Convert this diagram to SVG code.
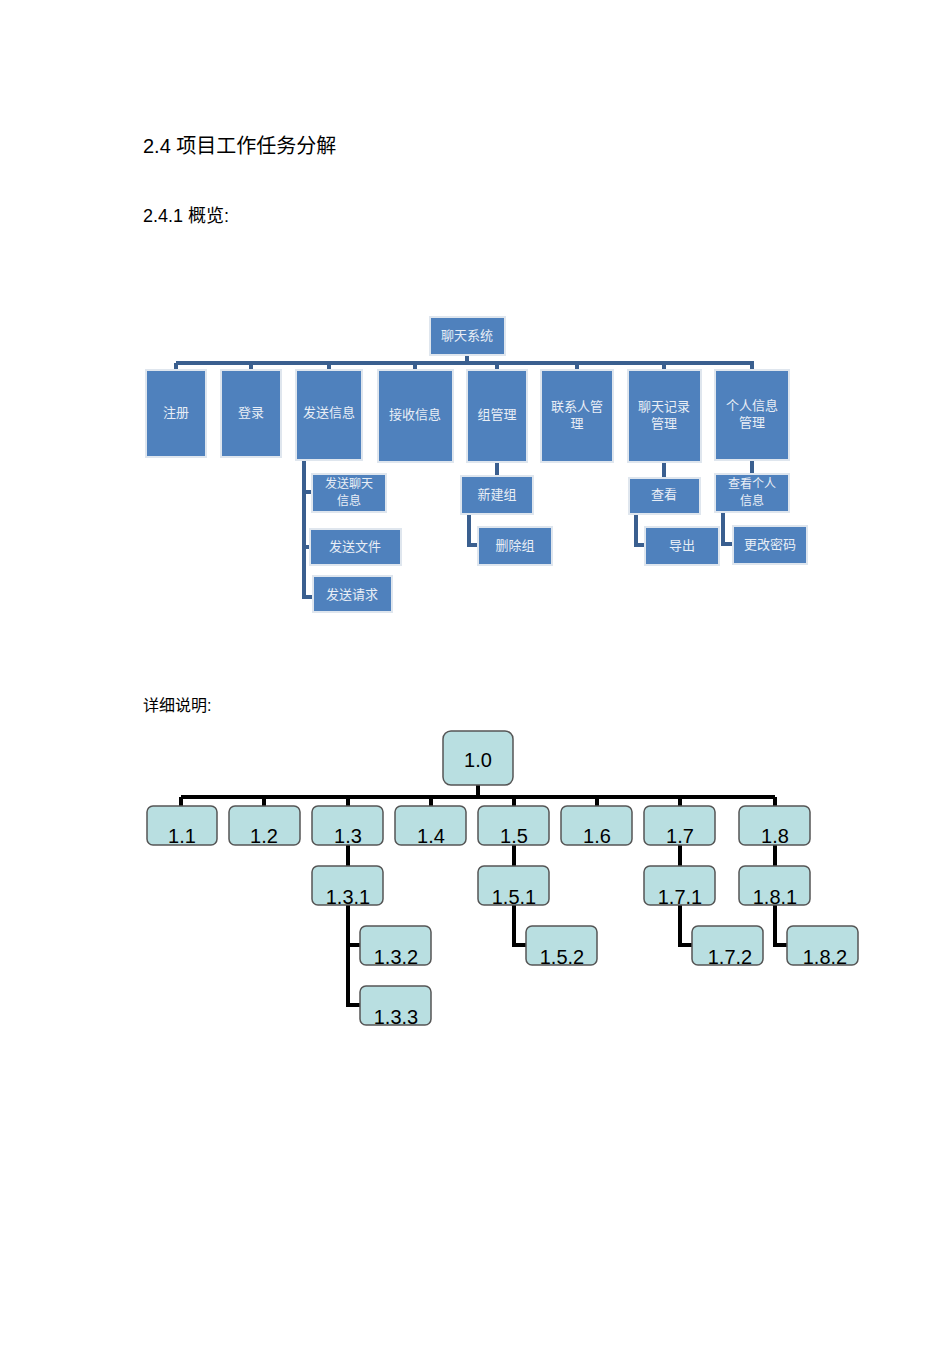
<svg xmlns="http://www.w3.org/2000/svg" width="950" height="1345" viewBox="0 0 950 1345">
<style>
.h{font-family:"Liberation Sans","Noto Sans CJK SC",sans-serif;fill:#000}
.b{fill:#4f81bd;stroke:#dfe6ee;stroke-width:2}
.bt{font-family:"Noto Sans CJK SC",sans-serif;font-size:13px;fill:#e8eef6;text-anchor:middle}
.sm{font-size:12px}
.c1{fill:none;stroke:#3a5f8f;stroke-width:4}
.g{fill:#b9dfe1;stroke:#555;stroke-width:1.5}
.gt{font-family:"Liberation Sans",sans-serif;font-size:20px;fill:#000;text-anchor:middle}
.c2{fill:none;stroke:#000;stroke-width:4}
</style>
<rect width="950" height="1345" fill="#fff"/>
<text class="h" x="143" y="153" font-size="20">2.4  项目工作任务分解</text>
<text class="h" x="143" y="222" font-size="18">2.4.1  概览:</text>
<text class="h" x="143" y="711" font-size="16">详细说明:</text>
<g id="connectors1">
<path class="c1" d="M467 355V363M176 363H754M176 363V370M251 363V370M329 363V370M415 363V370M497 363V370M577 363V370M664 363V370M752 363V370"/>
<path class="c1" d="M304 460V597H313M304 492H312M304 547H310"/>
<path class="c1" d="M497 462V476M469 514V545H478"/>
<path class="c1" d="M664 462V478M636 514V545H645"/>
<path class="c1" d="M752 460V474M723 512V544H733"/>
</g>
<g id="n_root"><rect class="b" x="430" y="317" width="75" height="38"/><text class="bt" x="467" y="340">聊天系统</text></g>
<g id="n_zc"><rect class="b" x="146" y="370" width="60" height="87"/><text class="bt" x="176" y="417">注册</text></g>
<g id="n_dl"><rect class="b" x="221" y="370" width="60" height="87"/><text class="bt" x="251" y="417">登录</text></g>
<g id="n_fs"><rect class="b" x="296" y="370" width="66" height="90"/><text class="bt" x="329" y="417">发送信息</text></g>
<g id="n_js"><rect class="b" x="378" y="370" width="75" height="92"/><text class="bt" x="415" y="419">接收信息</text></g>
<g id="n_zg"><rect class="b" x="467" y="370" width="60" height="92"/><text class="bt" x="497" y="419">组管理</text></g>
<g id="n_lx"><rect class="b" x="541" y="370" width="72" height="92"/><text class="bt" x="577" y="411">联系人管</text><text class="bt" x="577" y="428">理</text></g>
<g id="n_lt"><rect class="b" x="628" y="370" width="73" height="92"/><text class="bt" x="664" y="411">聊天记录</text><text class="bt" x="664" y="428">管理</text></g>
<g id="n_gr"><rect class="b" x="715" y="370" width="74" height="90"/><text class="bt" x="752" y="410">个人信息</text><text class="bt" x="752" y="427">管理</text></g>
<g id="n_fslt"><rect class="b" x="312" y="474" width="74" height="38"/><text class="bt sm" x="349" y="488">发送聊天</text><text class="bt sm" x="349" y="505">信息</text></g>
<g id="n_fswj"><rect class="b" x="310" y="529" width="91" height="36"/><text class="bt" x="355" y="551">发送文件</text></g>
<g id="n_fsqq"><rect class="b" x="313" y="576" width="79" height="36"/><text class="bt" x="352" y="599">发送请求</text></g>
<g id="n_xjz"><rect class="b" x="461" y="476" width="72" height="38"/><text class="bt" x="497" y="499">新建组</text></g>
<g id="n_scz"><rect class="b" x="478" y="527" width="74" height="38"/><text class="bt" x="515" y="550">删除组</text></g>
<g id="n_ck"><rect class="b" x="629" y="478" width="71" height="36"/><text class="bt" x="664" y="499">查看</text></g>
<g id="n_dc"><rect class="b" x="645" y="527" width="74" height="38"/><text class="bt" x="682" y="550">导出</text></g>
<g id="n_ckgr"><rect class="b" x="715" y="474" width="74" height="38"/><text class="bt sm" x="752" y="488">查看个人</text><text class="bt sm" x="752" y="505">信息</text></g>
<g id="n_ggmm"><rect class="b" x="733" y="526" width="74" height="38"/><text class="bt" x="770" y="549">更改密码</text></g>
<g id="connectors2">
<path class="c2" d="M478 785V797M181 797H775M181 797V806M264 797V806M348 797V806M431 797V806M514 797V806M597 797V806M680 797V806M775 797V806"/>
<path class="c2" d="M348 845V866M348 905V1005H360M348 945H360"/>
<path class="c2" d="M514 845V866M514 905V945H526"/>
<path class="c2" d="M680 845V866M680 905V945H692"/>
<path class="c2" d="M775 845V866M775 905V945H787"/>
</g>
<g id="w10"><rect class="g" x="443" y="731" width="70" height="54" rx="8"/><text class="gt" x="478" y="767">1.0</text></g>
<g id="w11"><rect class="g" x="147" y="806" width="70" height="39" rx="6"/><text class="gt" x="182" y="843">1.1</text></g>
<g id="w12"><rect class="g" x="229" y="806" width="71" height="39" rx="6"/><text class="gt" x="264" y="843">1.2</text></g>
<g id="w13"><rect class="g" x="312" y="806" width="71" height="39" rx="6"/><text class="gt" x="348" y="843">1.3</text></g>
<g id="w14"><rect class="g" x="395" y="806" width="71" height="39" rx="6"/><text class="gt" x="431" y="843">1.4</text></g>
<g id="w15"><rect class="g" x="478" y="806" width="71" height="39" rx="6"/><text class="gt" x="514" y="843">1.5</text></g>
<g id="w16"><rect class="g" x="561" y="806" width="71" height="39" rx="6"/><text class="gt" x="597" y="843">1.6</text></g>
<g id="w17"><rect class="g" x="644" y="806" width="71" height="39" rx="6"/><text class="gt" x="680" y="843">1.7</text></g>
<g id="w18"><rect class="g" x="739" y="806" width="71" height="39" rx="6"/><text class="gt" x="775" y="843">1.8</text></g>
<g id="w131"><rect class="g" x="312" y="866" width="71" height="39" rx="6"/><text class="gt" x="348" y="904">1.3.1</text></g>
<g id="w151"><rect class="g" x="478" y="866" width="71" height="39" rx="6"/><text class="gt" x="514" y="904">1.5.1</text></g>
<g id="w171"><rect class="g" x="644" y="866" width="71" height="39" rx="6"/><text class="gt" x="680" y="904">1.7.1</text></g>
<g id="w181"><rect class="g" x="739" y="866" width="71" height="39" rx="6"/><text class="gt" x="775" y="904">1.8.1</text></g>
<g id="w132"><rect class="g" x="360" y="926" width="71" height="39" rx="6"/><text class="gt" x="396" y="964">1.3.2</text></g>
<g id="w152"><rect class="g" x="526" y="926" width="71" height="39" rx="6"/><text class="gt" x="562" y="964">1.5.2</text></g>
<g id="w172"><rect class="g" x="692" y="926" width="71" height="39" rx="6"/><text class="gt" x="730" y="964">1.7.2</text></g>
<g id="w182"><rect class="g" x="787" y="926" width="71" height="39" rx="6"/><text class="gt" x="825" y="964">1.8.2</text></g>
<g id="w133"><rect class="g" x="360" y="986" width="71" height="39" rx="6"/><text class="gt" x="396" y="1024">1.3.3</text></g>
</svg>
